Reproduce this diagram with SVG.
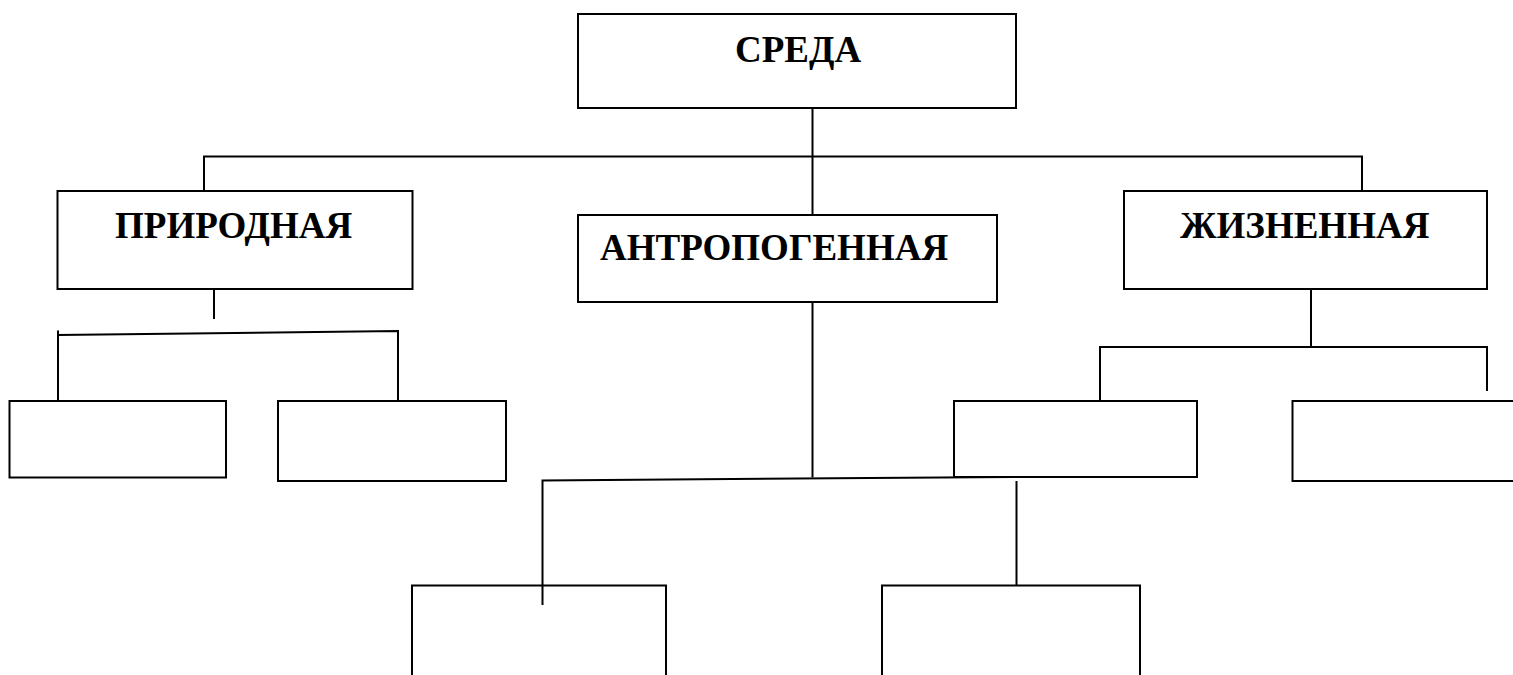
<svg xmlns="http://www.w3.org/2000/svg" width="1513" height="675" viewBox="0 0 1513 675">
<style>
.box{fill:#fff;stroke:#000;stroke-width:2}
.ln{fill:none;stroke:#000;stroke-width:2}
.t{font-family:"Liberation Serif","Times New Roman",serif;font-weight:bold;font-size:37px;fill:#000}
</style>
<rect width="1513" height="675" fill="#fff"/>
<g id="connectors">
<polyline class="ln" points="204,191 204,156.5 1362,156.5 1362,191"/>
<line class="ln" x1="812.5" y1="108" x2="812.5" y2="215"/>
<line class="ln" x1="214" y1="289" x2="214" y2="319"/>
<polyline class="ln" points="58,401 58,335 398,331 398,401"/>
<line class="ln" x1="58" y1="330.5" x2="58" y2="336"/>
<line class="ln" x1="812.5" y1="302" x2="812.5" y2="477.5"/>
<polyline class="ln" points="542.5,605 542.5,480.5 1013,477"/>
<line class="ln" x1="1016.5" y1="481" x2="1016.5" y2="585"/>
<line class="ln" x1="1311" y1="289" x2="1311" y2="347"/>
<polyline class="ln" points="1100,401 1100,347 1487,347 1487,391"/>
</g>
<g id="sreda">
<rect class="box" x="578" y="14" width="438" height="94"/>
<text class="t" x="735" y="61.5">СРЕДА</text>
</g>
<g id="prirodnaya">
<rect class="box" x="57.5" y="191" width="355" height="98"/>
<text class="t" x="115" y="237.5">ПРИРОДНАЯ</text>
</g>
<g id="antropogennaya">
<rect class="box" x="578" y="215" width="419" height="87"/>
<text class="t" x="600" y="260">АНТРОПОГЕННАЯ</text>
</g>
<g id="zhiznennaya">
<rect class="box" x="1124" y="191" width="363" height="98"/>
<text class="t" x="1180" y="237.5">ЖИЗНЕННАЯ</text>
</g>
<g id="prir-child-1"><rect class="box" x="9.5" y="401" width="216.5" height="76.5"/></g>
<g id="prir-child-2"><rect class="box" x="278" y="401" width="228" height="80"/></g>
<g id="antr-child-1"><path class="ln" d="M412,676 V585.5 H666 V676"/></g>
<g id="antr-child-2"><path class="ln" d="M882,676 V585.5 H1140 V676"/></g>
<g id="zhizn-child-1"><rect class="box" x="954" y="401" width="243" height="76"/></g>
<g id="zhizn-child-2"><path class="ln" d="M1520,401 H1292.5 V481 H1520"/></g>
</svg>
